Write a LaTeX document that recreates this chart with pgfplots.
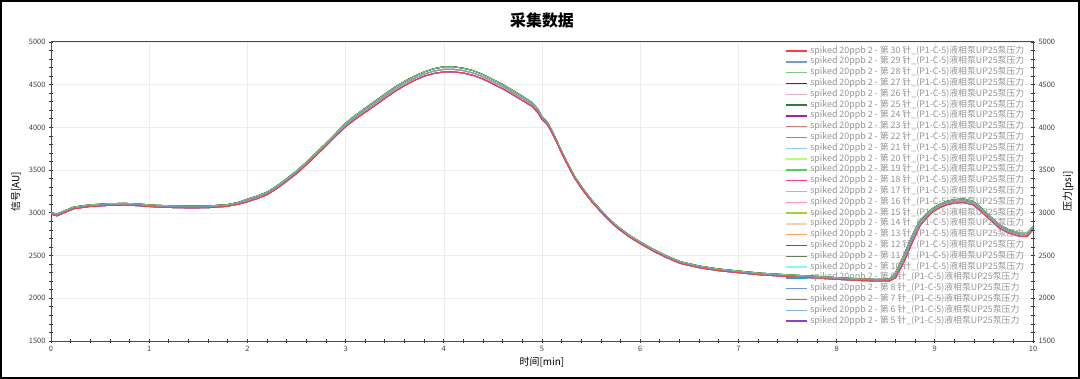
\documentclass[border=0pt]{standalone}
\usepackage{pgfplots}
\pgfplotsset{compat=1.18}
\usepackage{pgfplotstable}
\usepackage{fontspec}
\setmainfont{Noto Sans CJK SC}

\definecolor{c30}{HTML}{FF3B3B}
\definecolor{c29}{HTML}{6A9FD0}
\definecolor{c28}{HTML}{7CCB7C}
\definecolor{c27}{HTML}{3A3A3A}
\definecolor{c26}{HTML}{E8B4BC}
\definecolor{c25}{HTML}{2E7D32}
\definecolor{c24}{HTML}{A323A3}
\definecolor{c23}{HTML}{C08080}
\definecolor{c22}{HTML}{8C8C8C}
\definecolor{c21}{HTML}{8CCFF5}
\definecolor{c20}{HTML}{B4FF78}
\definecolor{c19}{HTML}{5ACC5A}
\definecolor{c18}{HTML}{FF3A9A}
\definecolor{c17}{HTML}{C4A8E6}
\definecolor{c16}{HTML}{FF94B4}
\definecolor{c15}{HTML}{A4D236}
\definecolor{c14}{HTML}{F0D4B8}
\definecolor{c13}{HTML}{FFA650}
\definecolor{c12}{HTML}{228B22}
\definecolor{c11}{HTML}{6B7B5B}
\definecolor{c10}{HTML}{80FFF0}
\definecolor{c9}{HTML}{20A0D0}
\definecolor{c8}{HTML}{7090E0}
\definecolor{c7}{HTML}{9060E0}
\definecolor{c6}{HTML}{80B4E4}
\definecolor{c5}{HTML}{9040C0}

\pgfplotstableread{
x y u l
0.00 2995 3005 2985
0.06 2975 2985 2965
0.12 3005 3015 2995
0.23 3058 3068 3048
0.40 3085 3095 3075
0.60 3098 3108 3088
0.75 3102 3112 3092
0.90 3093 3103 3083
1.05 3080 3090 3070
1.24 3072 3082 3062
1.40 3068 3078 3058
1.59 3070 3080 3060
1.79 3086 3096 3076
1.90 3110 3120 3100
2.00 3145 3160 3130
2.10 3182 3197 3167
2.20 3228 3243 3213
2.30 3300 3315 3285
2.40 3385 3400 3370
2.50 3475 3490 3460
2.60 3578 3593 3563
2.70 3688 3703 3673
2.80 3800 3815 3785
2.90 3915 3930 3900
3.00 4030 4050 4010
3.10 4120 4142 4098
3.20 4202 4226 4178
3.30 4282 4307 4257
3.40 4365 4390 4340
3.50 4445 4470 4420
3.60 4515 4540 4490
3.70 4575 4600 4550
3.80 4625 4650 4600
3.90 4660 4688 4632
4.00 4680 4710 4650
4.10 4680 4710 4650
4.20 4665 4693 4637
4.30 4637 4665 4609
4.40 4592 4618 4566
4.50 4535 4560 4510
4.60 4478 4503 4453
4.70 4410 4435 4385
4.80 4340 4365 4315
4.90 4268 4290 4246
4.96 4190 4210 4170
5.00 4110 4128 4092
5.05 4055 4070 4040
5.10 3955 3968 3942
5.15 3835 3845 3825
5.20 3710 3720 3700
5.25 3595 3605 3585
5.33 3420 3430 3410
5.42 3268 3278 3258
5.50 3150 3160 3140
5.59 3033 3043 3023
5.68 2925 2935 2915
5.76 2840 2850 2830
5.88 2735 2745 2725
6.00 2650 2660 2640
6.13 2565 2575 2555
6.27 2485 2495 2475
6.41 2418 2428 2408
6.61 2366 2376 2356
6.80 2333 2343 2323
7.02 2307 2317 2297
7.22 2285 2295 2275
7.50 2265 2275 2255
7.76 2249 2259 2239
8.00 2232 2242 2222
8.24 2218 2228 2208
8.40 2212 2222 2202
8.54 2214 2224 2204
8.60 2265 2300 2240
8.68 2448 2490 2410
8.78 2717 2760 2680
8.85 2881 2915 2850
8.92 2970 2995 2945
8.98 3033 3053 3013
9.05 3080 3100 3060
9.12 3115 3135 3095
9.20 3135 3155 3115
9.29 3142 3162 3122
9.39 3115 3135 3095
9.46 3050 3072 3028
9.53 2975 2995 2955
9.60 2900 2920 2880
9.66 2840 2860 2820
9.75 2785 2805 2765
9.87 2742 2760 2724
9.94 2742 2760 2724
10.00 2823 2840 2806
}\data

\newcommand{\leg}[1]{spiked 20ppb 2 - 第 #1 针\_(P1-C-5)液相泵UP25泵压力}

\pgfplotsset{
  common/.style={
    width=982bp, height=299bp, scale only axis,
    xmin=0, xmax=10, ymin=1500, ymax=5000,
    ytick={1500,2000,...,5000}, minor y tick num=4,
    tick align=center, major tick length=4bp, minor tick length=4bp,
    tick style={color=black!80, line width=0.8bp},
    axis line style={color=black!70, line width=1bp},
    tick label style={font=\fontsize{7.5}{9}\selectfont, color=black!75},
    /pgf/number format/assume math mode=true,
    /pgf/number format/1000 sep={},
    label style={font=\fontsize{8}{9}\selectfont\bfseries},
  }
}

\begin{document}
\begin{tikzpicture}
\useasboundingbox (-51bp,-38bp) rectangle (1029bp,341bp);
\begin{axis}[common,
  xtick={0,...,10}, minor x tick num=4,
  xtick pos=bottom, ytick pos=left,
  grid=major, major grid style={color=black!7, line width=0.6bp},
  xlabel={时间[min]}, ylabel={信号[AU]},
  every axis x label/.style={at={(0.5,0)}, anchor=center, yshift=-21bp},
  every axis y label/.style={at={(0,0.5)}, rotate=90, anchor=center, yshift=35bp},
  title={采集数据},
  every axis title/.style={at={(0.5,1)}, anchor=center, yshift=22bp, font=\fontsize{16}{17}\selectfont\bfseries},
  legend style={draw=none, fill=none, at={(1,1)}, anchor=north east, xshift=-3bp, yshift=-1.5bp,
    font=\fontsize{8.9}{9}\selectfont, text=black!42, row sep=0pt,
    nodes={inner ysep=0.9bp, inner xsep=2.5bp, text height=6.5bp, text depth=2.5bp}},
  legend cell align=left,
  reverse legend,
  legend image code/.code={\draw[#1, line width=1.4bp] (0bp,0bp) -- (21bp,0bp);},
  every axis plot/.append style={line width=0.9bp},
]
\addplot[c5] table[x=x,y=l] {\data}; \addlegendentry{\leg{5}}
\addplot[c6] table[x=x,y=y] {\data}; \addlegendentry{\leg{6}}
\addplot[c7] table[x=x,y=l] {\data}; \addlegendentry{\leg{7}}
\addplot[c8] table[x=x,y=y] {\data}; \addlegendentry{\leg{8}}
\addplot[c9] table[x=x,y=l] {\data}; \addlegendentry{\leg{9}}
\addplot[c10] table[x=x,y=l] {\data}; \addlegendentry{\leg{10}}
\addplot[c11] table[x=x,y=y] {\data}; \addlegendentry{\leg{11}}
\addplot[c12] table[x=x,y=u] {\data}; \addlegendentry{\leg{12}}
\addplot[c13] table[x=x,y=y] {\data}; \addlegendentry{\leg{13}}
\addplot[c14] table[x=x,y=l] {\data}; \addlegendentry{\leg{14}}
\addplot[c15] table[x=x,y=u] {\data}; \addlegendentry{\leg{15}}
\addplot[c16] table[x=x,y=y] {\data}; \addlegendentry{\leg{16}}
\addplot[c17] table[x=x,y=l] {\data}; \addlegendentry{\leg{17}}
\addplot[c18] table[x=x,y=l] {\data}; \addlegendentry{\leg{18}}
\addplot[c19] table[x=x,y=u] {\data}; \addlegendentry{\leg{19}}
\addplot[c20] table[x=x,y=y] {\data}; \addlegendentry{\leg{20}}
\addplot[c21] table[x=x,y=l] {\data}; \addlegendentry{\leg{21}}
\addplot[c22] table[x=x,y=u] {\data}; \addlegendentry{\leg{22}}
\addplot[c23] table[x=x,y=y] {\data}; \addlegendentry{\leg{23}}
\addplot[c24] table[x=x,y=l] {\data}; \addlegendentry{\leg{24}}
\addplot[c25] table[x=x,y=u] {\data}; \addlegendentry{\leg{25}}
\addplot[c26] table[x=x,y=y] {\data}; \addlegendentry{\leg{26}}
\addplot[c27] table[x=x,y=u] {\data}; \addlegendentry{\leg{27}}
\addplot[c28] table[x=x,y=u] {\data}; \addlegendentry{\leg{28}}
\addplot[c29] table[x=x,y=y] {\data}; \addlegendentry{\leg{29}}
\addplot[c30] table[x=x,y=l] {\data}; \addlegendentry{\leg{30}}
\end{axis}
\begin{axis}[common,
  axis x line=none, axis y line*=right,
  ylabel={压力[psi]},
  every axis y label/.style={at={(1,0.5)}, rotate=90, anchor=center, yshift=-35bp},
]
\end{axis}
\draw[line width=2.5bp, black] (-49.75bp,-36.75bp) rectangle (1027.75bp,339.75bp);
\end{tikzpicture}
\end{document}
